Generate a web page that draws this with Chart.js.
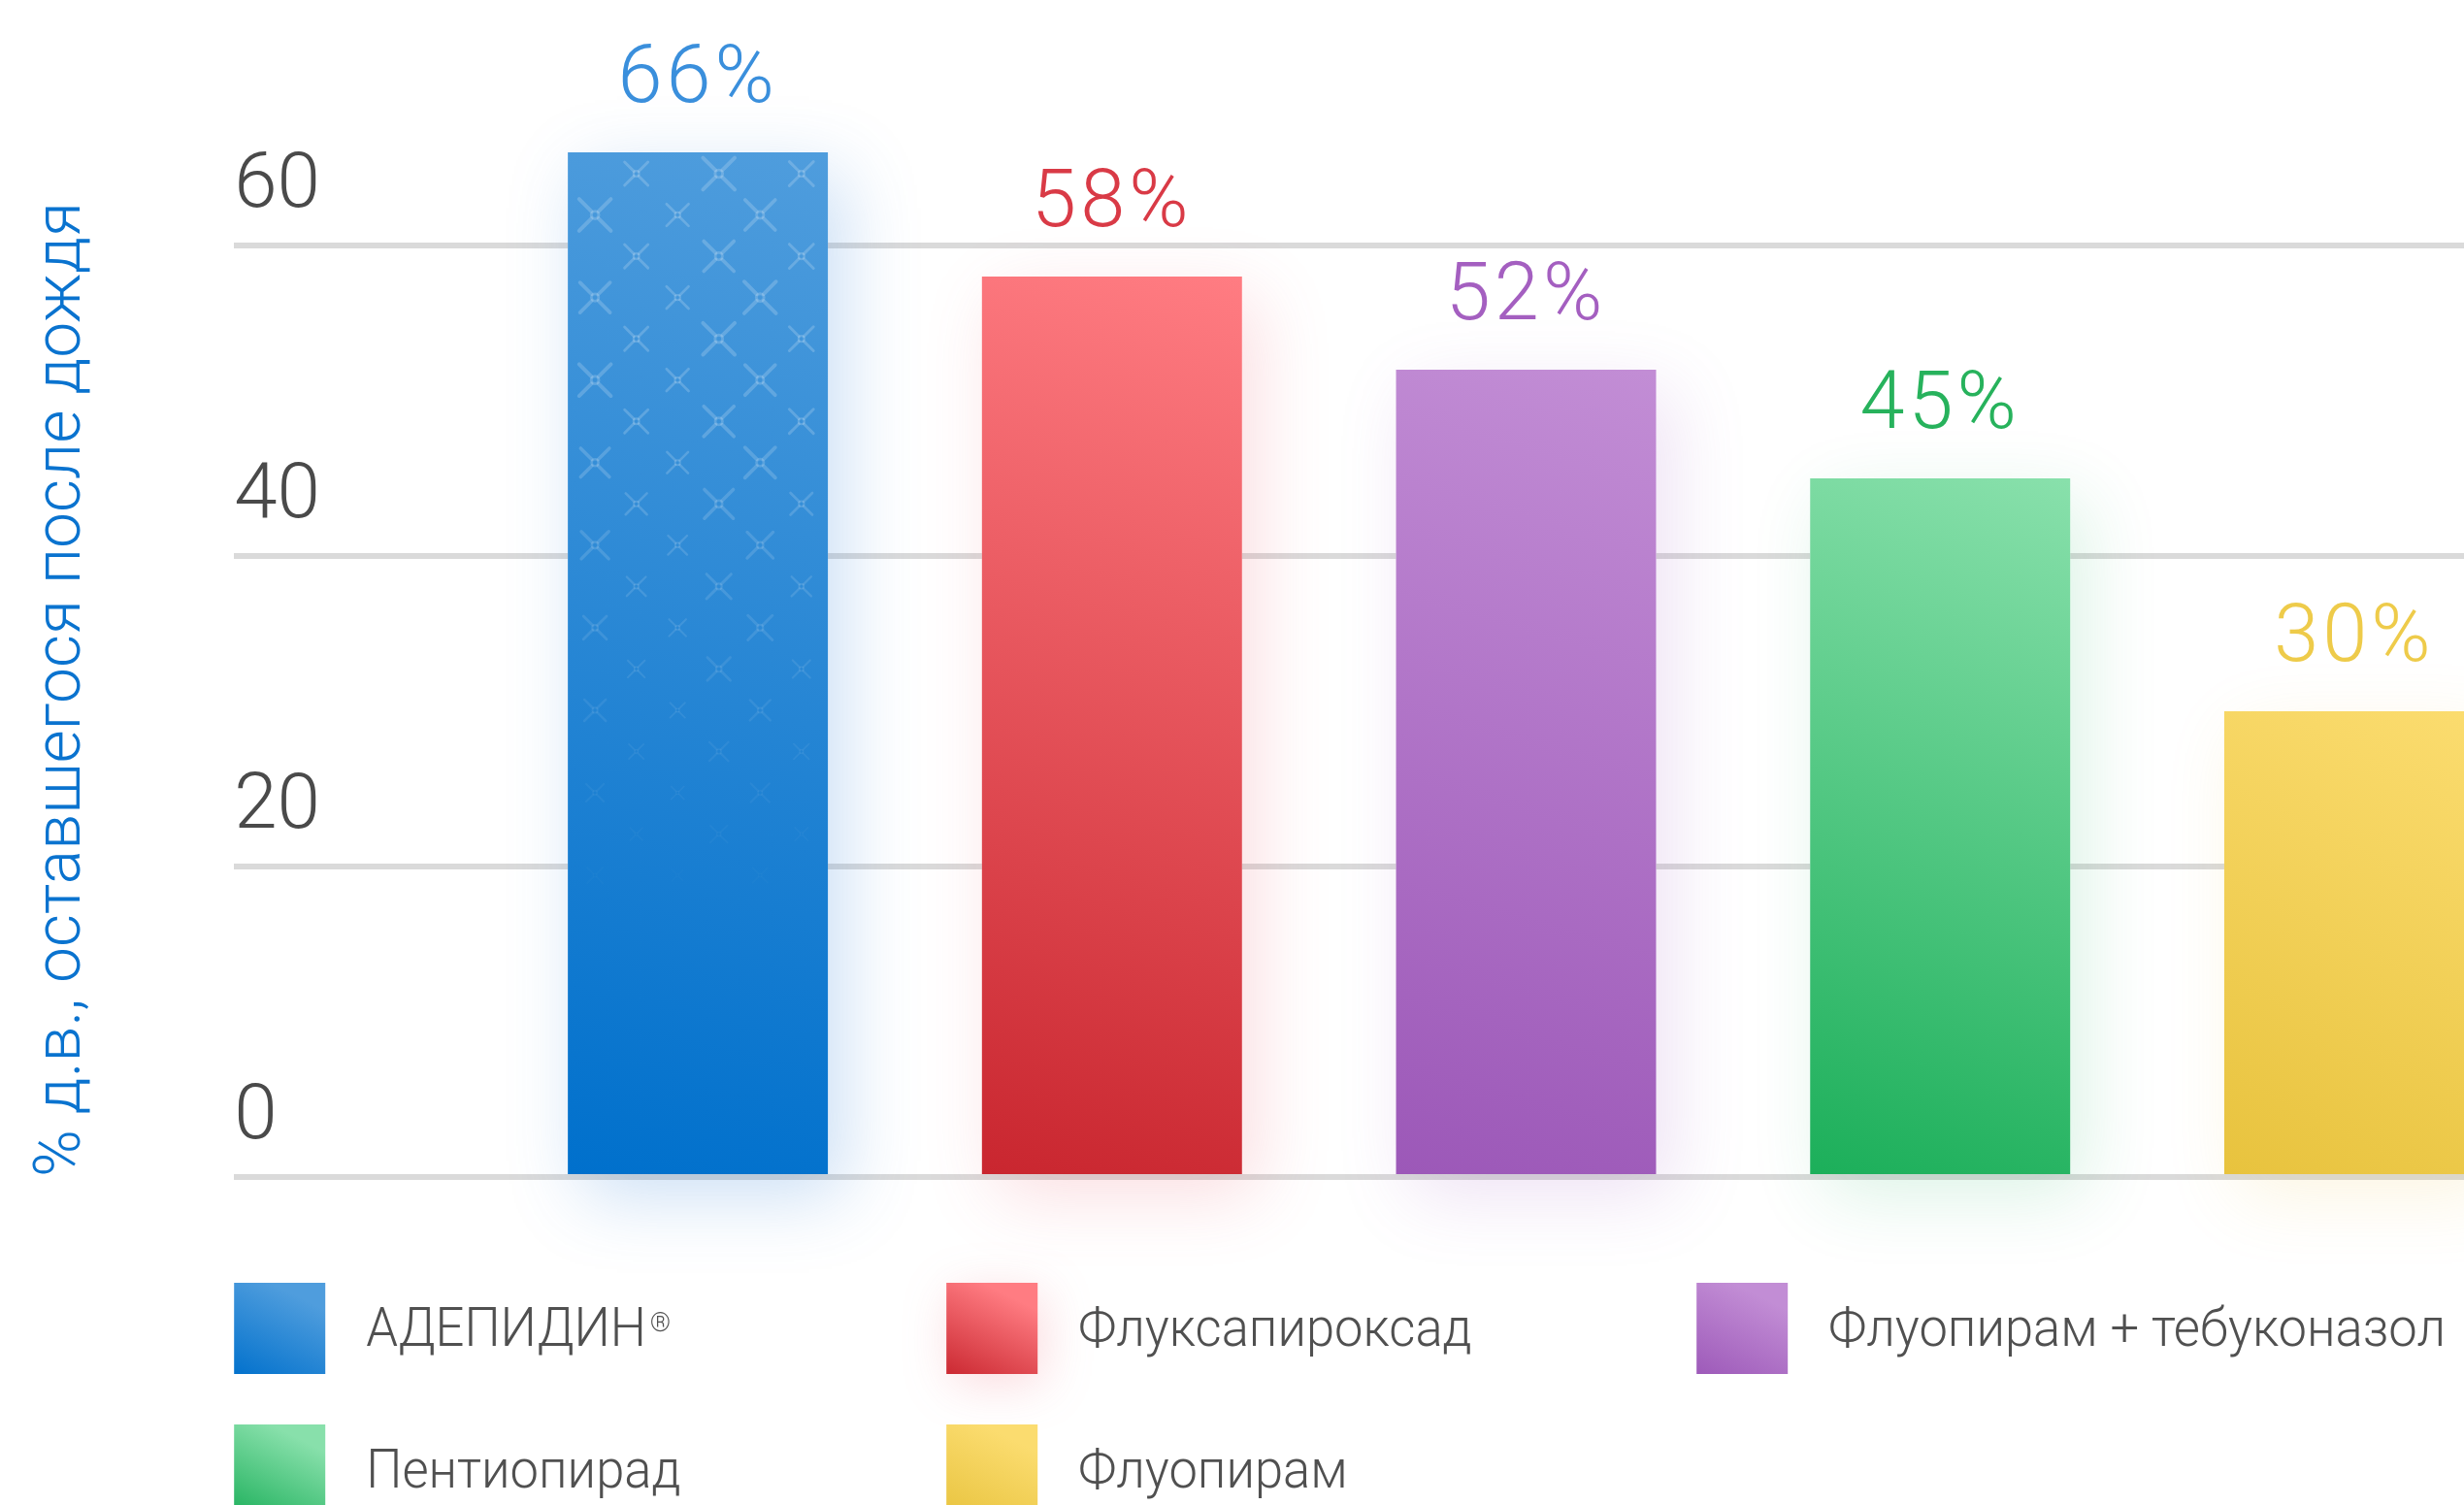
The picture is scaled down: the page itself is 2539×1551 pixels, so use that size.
<!DOCTYPE html>
<html>
<head>
<meta charset="utf-8">
<script src="https://cdn.jsdelivr.net/npm/chart.js@4.4.0/dist/chart.umd.min.js"></script>
<style>
html, body { margin: 0; padding: 0; background: #ffffff; overflow: hidden; }
#wrap { position: relative; width: 2539px; height: 1551px; }
</style>
</head>
<body>
<div id="wrap"><canvas id="chart"></canvas></div>
<script>
// ---------- DATA ----------
const categories = ['АДЕПИДИН®', 'Флуксапироксад', 'Флуопирам + тебуконазол', 'Пентиопирад', 'Флуопирам'];
const values = [66, 58, 52, 45, 30];
const valueLabels = ['66%', '58%', '52%', '45%', '30%'];
const yTicks = [0, 20, 40, 60];
const yTitle = '% д.в., оставшегося после дождя';

// ---------- STYLES ----------
const gradTop    = ['#4f9ddd', '#ff7c82', '#c28dd5', '#88e0ab', '#fbdc6f'];
const gradBottom = ['#0070cc', '#c9262f', '#9c58b8', '#1caf5a', '#e8c33e'];
const labelColors = ['#3a8fdc', '#d93a46', '#a45fc0', '#27b25c', '#eecb4a'];
const glowColors = ['rgba(70,140,220,0.28)', 'rgba(235,90,105,0.20)', 'rgba(160,95,195,0.18)', 'rgba(40,180,100,0.16)', 'rgba(235,195,70,0.16)'];
const bigSizes = [1.0, 0.95, 1.0, 0.9];
const smallSizes = [0.7, 0.78, 0.72, 0.66];

function barGradient(c) {
  const i = c.dataIndex ?? 0;
  if (c.type !== 'data') return gradBottom[i];
  const chart = c.chart;
  const ys = chart.scales.y, xs = chart.scales.x;
  if (!ys || !xs || !chart.chartArea) return gradBottom[i];
  const top = ys.getPixelForValue(c.parsed.y);
  const bottom = ys.getPixelForValue(0);
  const cx = xs.getPixelForValue(c.parsed.x);
  const g = chart.ctx.createLinearGradient(cx + 120, top, cx - 120, bottom);
  g.addColorStop(0, gradTop[i]);
  g.addColorStop(1, gradBottom[i]);
  return g;
}

// s = half span of the sparkle glyph
function drawSparkle(ctx, cx, cy, s, alpha) {
  if (alpha <= 0.005) return;
  ctx.save();
  ctx.globalAlpha = alpha;
  ctx.strokeStyle = '#ffffff';
  ctx.lineCap = 'round';
  const lw = Math.max(1.2, s * 0.2);
  const r = Math.max(1.5, s * 0.2);
  const inner = (r + lw * 0.3) / Math.SQRT2;
  const outer = s - lw * 0.8;
  ctx.lineWidth = lw;
  ctx.beginPath();
  [[-1, -1], [1, -1], [-1, 1], [1, 1]].forEach(([dx, dy]) => {
    ctx.moveTo(cx + dx * inner, cy + dy * inner);
    ctx.lineTo(cx + dx * outer, cy + dy * outer);
  });
  ctx.stroke();
  ctx.lineWidth = lw * 0.75;
  ctx.beginPath();
  ctx.arc(cx, cy, r, 0, Math.PI * 2);
  ctx.stroke();
  ctx.restore();
}

const glowPlugin = {
  id: 'barGlow',
  beforeDatasetsDraw(chart) {
    const ctx = chart.ctx;
    const meta = chart.getDatasetMeta(0);
    meta.data.forEach((bar, i) => {
      const p = bar.getProps(['x', 'y', 'base', 'width'], true);
      ctx.save();
      ctx.shadowColor = glowColors[i];
      ctx.shadowBlur = 70;
      ctx.shadowOffsetX = 16;
      ctx.shadowOffsetY = 22;
      ctx.fillStyle = '#ffffff';
      ctx.fillRect(p.x - p.width / 2, p.y, p.width, p.base - p.y);
      ctx.restore();
    });
  }
};

const patternPlugin = {
  id: 'sparklePattern',
  afterDatasetsDraw(chart) {
    const ctx = chart.ctx;
    const bar = chart.getDatasetMeta(0).data[0];
    if (!bar) return;
    const p = bar.getProps(['x', 'y', 'base', 'width'], true);
    const left = p.x - p.width / 2;
    const step = p.width / 6.3;
    ctx.save();
    ctx.beginPath();
    ctx.rect(left, p.y, p.width, p.base - p.y);
    ctx.clip();
    const rows = 18;
    for (let row = 0; row < rows; row++) {
      const cy = p.y + 22 + row * step;
      const t = row < 6 ? 1 : Math.max(0, 1 - (row - 6) / (rows - 5));
      for (let col = 0; col < 6; col++) {
        if ((row + col) % 2 === 0) continue;
        const cx = left + 28 + col * step;
        const k = Math.floor(col / 2);
        const big = (row + k) % 2 === 1;
        const f = big ? bigSizes[(row + k) % bigSizes.length] : smallSizes[(row * 2 + k) % smallSizes.length];
        const s = 20.5 * f * (0.4 + 0.6 * t);
        drawSparkle(ctx, cx, cy, s, 0.19 * Math.pow(t, 1.2));
      }
    }
    ctx.restore();
  }
};

const valueLabelPlugin = {
  id: 'valueLabels',
  afterDatasetsDraw(chart) {
    const ctx = chart.ctx;
    const meta = chart.getDatasetMeta(0);
    meta.data.forEach((bar, i) => {
      ctx.save();
      ctx.font = '300 83px Roboto';
      ctx.letterSpacing = '4px';
      ctx.fillStyle = labelColors[i];
      ctx.textAlign = 'center';
      ctx.textBaseline = 'alphabetic';
      ctx.fillText(valueLabels[i], bar.x, bar.y - 52);
      ctx.restore();
    });
  }
};

const gridLegendPlugin = {
  id: 'gridLegend',
  afterDraw(chart, args, opts) {
    const { ctx, chartArea } = chart;
    const s = opts.boxSize;
    categories.forEach((name, i) => {
      const col = i % 3, row = Math.floor(i / 3);
      const x = chartArea.left + opts.colOffsets[col];
      const y = chartArea.bottom + opts.rowOffsets[row];
      ctx.save();
      const g = ctx.createLinearGradient(x + s * 0.4, y, x - s * 0.1, y + s);
      g.addColorStop(0, gradTop[i]);
      g.addColorStop(1, gradBottom[i]);
      if (i === 1) {
        ctx.shadowColor = 'rgba(235,90,105,0.22)';
        ctx.shadowBlur = 50;
        ctx.shadowOffsetX = 6;
        ctx.shadowOffsetY = 10;
      }
      ctx.fillStyle = g;
      ctx.fillRect(x, y, s, s);
      ctx.restore();

      ctx.save();
      const tx = x + s + opts.textGap;
      const ty = y + s / 2 + 4;
      ctx.translate(tx, ty);
      ctx.scale(opts.textScaleX, 1);
      ctx.font = '300 55px Roboto';
      ctx.fillStyle = '#505050';
      ctx.textAlign = 'left';
      ctx.textBaseline = 'middle';
      let main = name, sup = '';
      if (name.endsWith('®')) { main = name.slice(0, -1); sup = '®'; }
      ctx.fillText(main, 0, 0);
      if (sup) {
        const w = ctx.measureText(main).width;
        ctx.font = '300 28px Roboto';
        ctx.textBaseline = 'top';
        ctx.fillText(sup, w + 4, -22);
      }
      ctx.restore();
    });
  }
};

function build() {
  Chart.defaults.font.family = 'Roboto';
  const ctx = document.getElementById('chart').getContext('2d');
  new Chart(ctx, {
    type: 'bar',
    data: {
      labels: categories,
      datasets: [{
        label: yTitle,
        data: values.map((v, i) => ({ x: i, y: v })),
        backgroundColor: barGradient,
        borderWidth: 0,
        barPercentage: 0.628,
        categoryPercentage: 1.0
      }]
    },
    options: {
      responsive: true,
      maintainAspectRatio: false,
      devicePixelRatio: 1,
      animation: false,
      events: [],
      layout: { padding: { left: 26, top: 13, right: 0, bottom: 338 } },
      scales: {
        x: {
          type: 'linear',
          min: -1.12,
          max: 4.265,
          offset: false,
          display: false,
          afterBuildTicks: axis => { axis.ticks = categories.map((c, i) => ({ value: i })); },
          grid: { display: false }
        },
        y: {
          type: 'linear',
          min: 0,
          max: 75,
          afterBuildTicks: axis => { axis.ticks = yTicks.map(v => ({ value: v })); },
          afterFit: axis => { axis.paddingTop = 0; axis.paddingBottom = 0; },
          ticks: {
            mirror: true,
            padding: 0,
            labelOffset: -60,
            color: '#4a4a4a',
            font: { family: 'Roboto', weight: 300, size: 80 }
          },
          grid: { color: '#dadada', lineWidth: 6, drawTicks: false },
          border: { display: false },
          title: {
            display: true,
            text: yTitle,
            align: 'start',
            color: '#0a73cf',
            font: { family: 'Roboto', weight: 300, size: 66, lineHeight: 1.2 },
            padding: { top: 0, bottom: 136 }
          }
        }
      },
      plugins: {
        legend: { display: false },
        tooltip: { enabled: false },
        gridLegend: { boxSize: 94, colOffsets: [0, 734, 1507], rowOffsets: [109, 255], textGap: 42, textScaleX: 0.955 }
      }
    },
    plugins: [glowPlugin, patternPlugin, valueLabelPlugin, gridLegendPlugin]
  });
}

Promise.all([
  document.fonts.load('300 40px Roboto'),
  document.fonts.load('400 40px Roboto')
]).catch(() => {}).then(build);
</script>
</body>
</html>
